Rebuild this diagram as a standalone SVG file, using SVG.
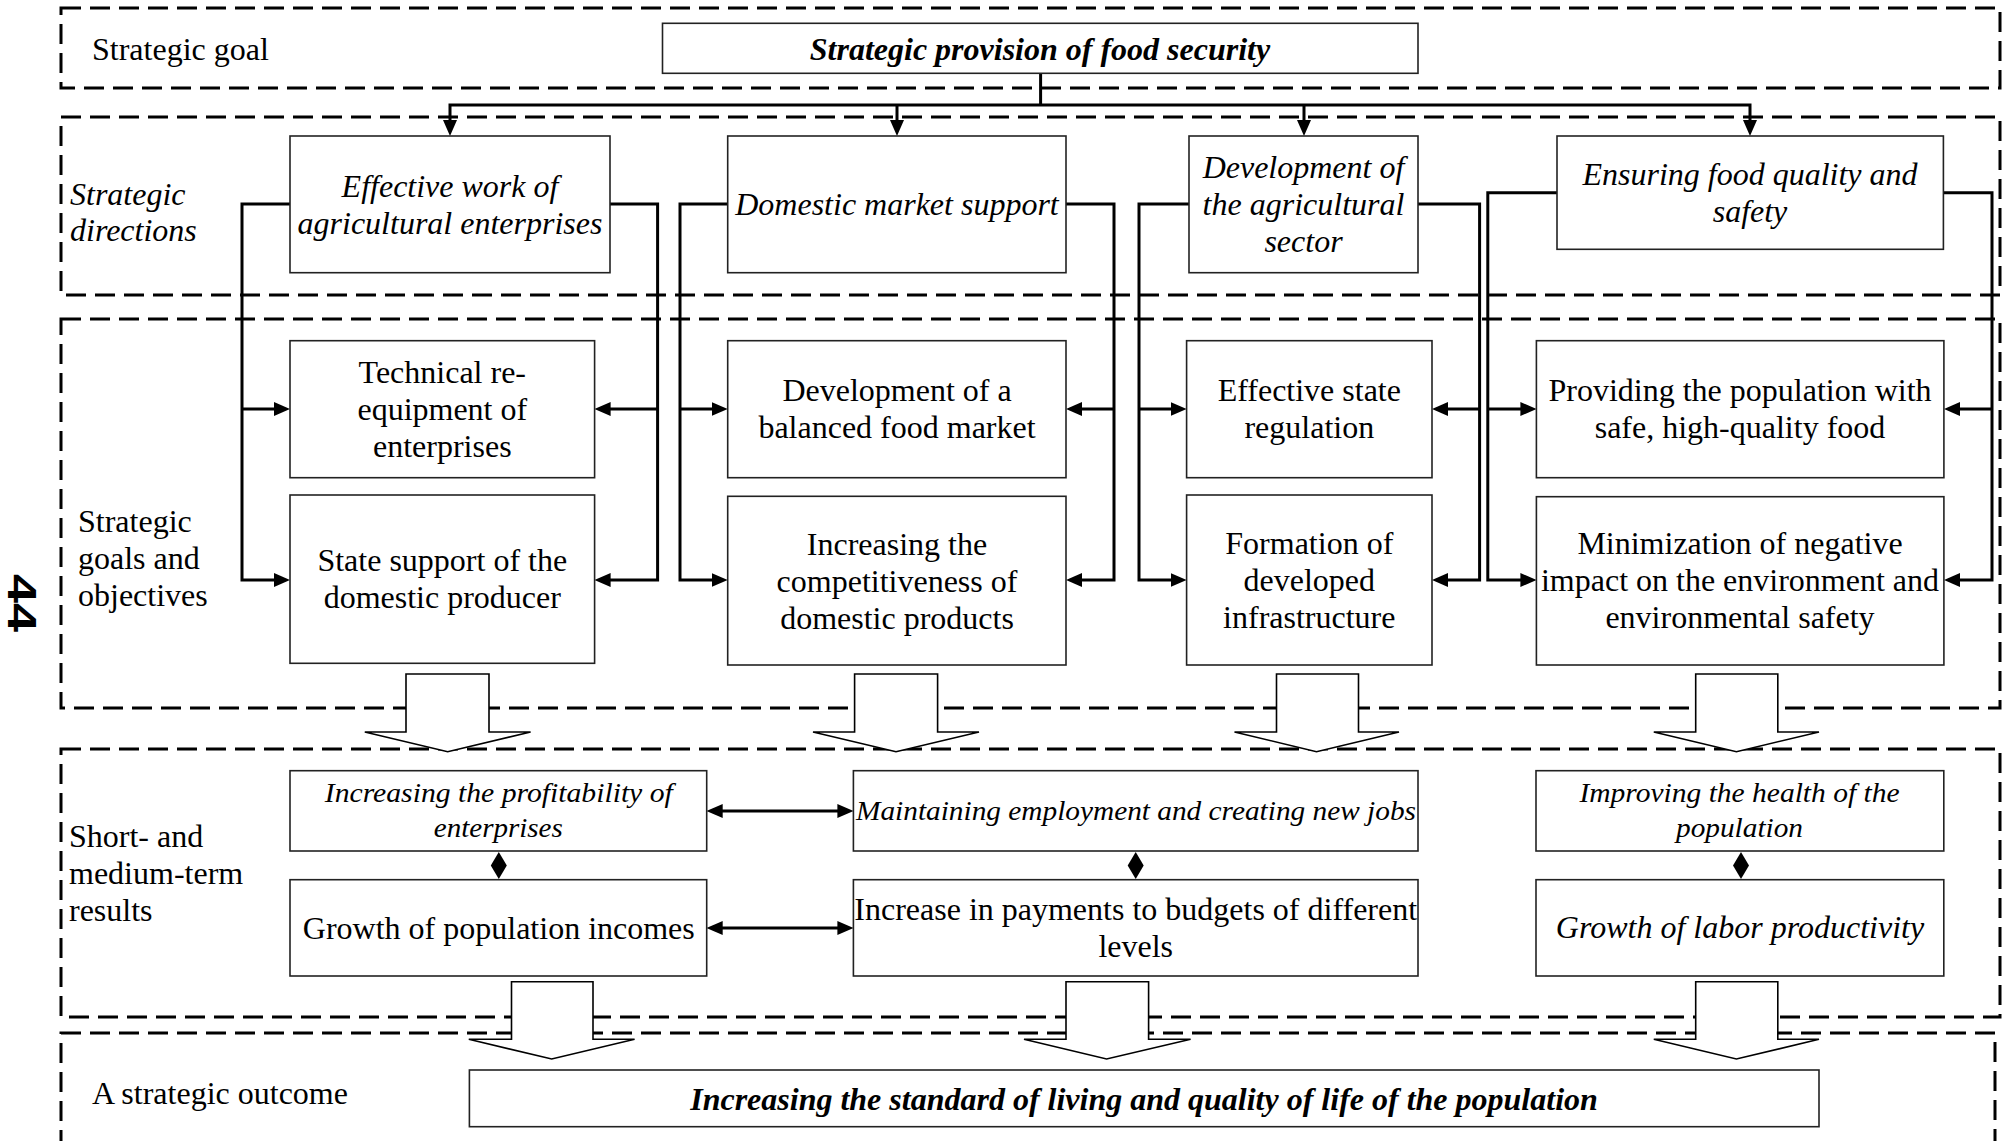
<svg xmlns="http://www.w3.org/2000/svg" width="2013" height="1141" viewBox="0 0 2013 1141">
  <style>
    .frame{fill:none;stroke:#000;stroke-width:3;stroke-dasharray:20 9}
    .box{fill:#fff;stroke:#222;stroke-width:1.6}
    .t{font-family:"Liberation Serif","Times New Roman",serif;font-size:32px;fill:#000}
    .c{text-anchor:middle}
    .i{font-style:italic}
    .b{font-weight:bold}
    .s{font-size:28px}
    .wire{fill:none;stroke:#000;stroke-width:3}
    .block{fill:#fff;stroke:#000;stroke-width:1.6;stroke-linejoin:miter}
    .dia{fill:#000;stroke:none}
  </style>
  <defs>
    <marker id="ah" markerUnits="userSpaceOnUse" markerWidth="16" markerHeight="14" viewBox="0 0 16 14" refX="8" refY="7" orient="auto-start-reverse">
      <path d="M0,0 L16,7 L0,14 Z" fill="#000"/>
    </marker>
  </defs>
  <rect width="2013" height="1141" fill="#fff"/>

  <!-- dashed level frames with their captions -->
  <g id="levels">
    <g id="level-goal">
      <rect class="frame" x="61" y="8" width="1939" height="80"/>
      <text class="t" x="92" y="60">Strategic goal</text>
    </g>
    <g id="level-directions">
      <rect class="frame" x="61" y="117" width="1939" height="178"/>
      <text class="t i" x="70" y="205">Strategic</text>
      <text class="t i" x="70" y="241">directions</text>
    </g>
    <g id="level-objectives">
      <rect class="frame" x="61" y="319" width="1939" height="389"/>
      <text class="t" x="78" y="532">Strategic</text>
      <text class="t" x="78" y="569">goals and</text>
      <text class="t" x="78" y="606">objectives</text>
    </g>
    <g id="level-results">
      <rect class="frame" x="61" y="749" width="1939" height="268"/>
      <text class="t" x="69" y="847">Short- and</text>
      <text class="t" x="69" y="884">medium-term</text>
      <text class="t" x="69" y="921">results</text>
    </g>
    <g id="level-outcome">
      <rect class="frame" x="61" y="1033" width="1934" height="140"/>
      <text class="t" x="92" y="1104">A strategic outcome</text>
    </g>
  </g>

  <!-- page number -->
  <text transform="translate(22,603) rotate(90)" text-anchor="middle" dominant-baseline="central" font-family="Liberation Sans, Arial, sans-serif" font-weight="bold" font-size="40" textLength="58" lengthAdjust="spacingAndGlyphs">44</text>

  <!-- connectors -->
  <g id="connectors">
    <!-- block arrows between levels -->
    <polygon class="block" points="406,674 489,674 489,732 530.6,732 447.7,751.7 364.8,732 406,732"/>
    <polygon class="block" points="854.6,674 937.6,674 937.6,732 979,732 896,751.7 813,732 854.6,732"/>
    <polygon class="block" points="1276.5,674 1358.5,674 1358.5,732 1399,732 1316.5,751.7 1234.5,732 1276.5,732"/>
    <polygon class="block" points="1695.7,674 1777.8,674 1777.8,732 1819,732 1736.4,751.7 1653.8,732 1695.7,732"/>
    <polygon class="block" points="511.5,981.7 593,981.7 593,1039.3 634.6,1039.3 551.7,1059 468.8,1039.3 511.5,1039.3"/>
    <polygon class="block" points="1066,981.7 1148.6,981.7 1148.6,1039.3 1190.6,1039.3 1106.6,1059 1024,1039.3 1066,1039.3"/>
    <polygon class="block" points="1695.7,981.7 1777.8,981.7 1777.8,1039.3 1819,1039.3 1736.4,1059 1653.8,1039.3 1695.7,1039.3"/>

    <!-- goal to directions -->
    <path class="wire" d="M1040.6,73.3 V105"/>
    <path class="wire" d="M450,128 V105 H1750 V128" marker-start="url(#ah)" marker-end="url(#ah)"/>
    <path class="wire" d="M897,105 V128" marker-end="url(#ah)"/>
    <path class="wire" d="M1304,105 V128" marker-end="url(#ah)"/>

    <!-- directions to objectives -->
    <path class="wire" d="M290,204 H242 V580 H282" marker-end="url(#ah)"/>
    <path class="wire" d="M242,409 H282" marker-end="url(#ah)"/>
    <path class="wire" d="M610,204 H657.6 V580 H602.6" marker-end="url(#ah)"/>
    <path class="wire" d="M657.6,409 H602.6" marker-end="url(#ah)"/>

    <path class="wire" d="M727.7,204 H680 V580 H719.7" marker-end="url(#ah)"/>
    <path class="wire" d="M680,409 H719.7" marker-end="url(#ah)"/>
    <path class="wire" d="M1066,204 H1114 V580 H1074" marker-end="url(#ah)"/>
    <path class="wire" d="M1114,409 H1074" marker-end="url(#ah)"/>

    <path class="wire" d="M1189,204 H1139 V580 H1178.6" marker-end="url(#ah)"/>
    <path class="wire" d="M1139,409 H1178.6" marker-end="url(#ah)"/>
    <path class="wire" d="M1418,204 H1479.6 V580 H1440" marker-end="url(#ah)"/>
    <path class="wire" d="M1479.6,409 H1440" marker-end="url(#ah)"/>

    <path class="wire" d="M1557,192.7 H1487.8 V580 H1528.4" marker-end="url(#ah)"/>
    <path class="wire" d="M1487.8,409 H1528.4" marker-end="url(#ah)"/>
    <path class="wire" d="M1943.4,192.7 H1992 V580 H1952" marker-end="url(#ah)"/>
    <path class="wire" d="M1992,409 H1952" marker-end="url(#ah)"/>

    <!-- links between results -->
    <path class="wire" d="M714.7,811 H845.4" marker-start="url(#ah)" marker-end="url(#ah)"/>
    <path class="wire" d="M714.7,928 H845.4" marker-start="url(#ah)" marker-end="url(#ah)"/>
    <polygon class="dia" points="498.8,852 506.8,865.5 498.8,879 490.8,865.5"/>
    <polygon class="dia" points="1135.7,852 1143.7,865.5 1135.7,879 1127.7,865.5"/>
    <polygon class="dia" points="1741,852 1749,865.5 1741,879 1733,865.5"/>
  </g>

  <!-- strategic goal -->
  <g id="goal">
    <rect class="box" x="662.5" y="23.3" width="755.5" height="50"/>
    <text class="t i b c" x="1040" y="60">Strategic provision of food security</text>
  </g>

  <!-- strategic directions -->
  <g id="dir-enterprises">
    <rect class="box" x="290" y="136" width="320" height="136.7"/>
    <text class="t i c" x="450" y="196.5">Effective work of</text>
    <text class="t i c" x="450" y="233.5">agricultural enterprises</text>
  </g>
  <g id="dir-market">
    <rect class="box" x="727.7" y="136" width="338.3" height="136.7"/>
    <text class="t i c" x="897" y="215">Domestic market support</text>
  </g>
  <g id="dir-agrisector">
    <rect class="box" x="1189" y="136" width="229" height="136.7"/>
    <text class="t i c" x="1303.5" y="178">Development of</text>
    <text class="t i c" x="1303.5" y="215">the agricultural</text>
    <text class="t i c" x="1303.5" y="252">sector</text>
  </g>
  <g id="dir-quality">
    <rect class="box" x="1557" y="136" width="386.4" height="113.3"/>
    <text class="t i c" x="1750" y="184.5">Ensuring food quality and</text>
    <text class="t i c" x="1750" y="221.5">safety</text>
  </g>

  <!-- goals and objectives -->
  <g id="obj-reequipment">
    <rect class="box" x="290" y="340.7" width="304.6" height="137"/>
    <text class="t c" x="442.3" y="382.7">Technical re-</text>
    <text class="t c" x="442.3" y="419.7">equipment of</text>
    <text class="t c" x="442.3" y="456.7">enterprises</text>
  </g>
  <g id="obj-producer">
    <rect class="box" x="290" y="495" width="304.6" height="168.3"/>
    <text class="t c" x="442.3" y="570.5">State support of the</text>
    <text class="t c" x="442.3" y="607.5">domestic producer</text>
  </g>
  <g id="obj-foodmarket">
    <rect class="box" x="727.7" y="340.7" width="338.3" height="137"/>
    <text class="t c" x="897" y="401.2">Development of a</text>
    <text class="t c" x="897" y="438.2">balanced food market</text>
  </g>
  <g id="obj-competitiveness">
    <rect class="box" x="727.7" y="496.3" width="338.3" height="168.7"/>
    <text class="t c" x="897" y="554.5">Increasing the</text>
    <text class="t c" x="897" y="591.5">competitiveness of</text>
    <text class="t c" x="897" y="628.5">domestic products</text>
  </g>
  <g id="obj-regulation">
    <rect class="box" x="1186.6" y="340.7" width="245.4" height="137"/>
    <text class="t c" x="1309.3" y="401.2">Effective state</text>
    <text class="t c" x="1309.3" y="438.2">regulation</text>
  </g>
  <g id="obj-infrastructure">
    <rect class="box" x="1186.6" y="495" width="245.4" height="170"/>
    <text class="t c" x="1309.3" y="553.5">Formation of</text>
    <text class="t c" x="1309.3" y="590.5">developed</text>
    <text class="t c" x="1309.3" y="627.5">infrastructure</text>
  </g>
  <g id="obj-safefood">
    <rect class="box" x="1536.4" y="340.7" width="407.5" height="137"/>
    <text class="t c" x="1740" y="400.5">Providing the population with</text>
    <text class="t c" x="1740" y="437.5">safe, high-quality food</text>
  </g>
  <g id="obj-environment">
    <rect class="box" x="1536.4" y="496.7" width="407.5" height="168.3"/>
    <text class="t c" x="1740" y="554">Minimization of negative</text>
    <text class="t c" x="1740" y="591">impact on the environment and</text>
    <text class="t c" x="1740" y="628">environmental safety</text>
  </g>

  <!-- short- and medium-term results -->
  <g id="res-profitability">
    <rect class="box" x="290" y="770.7" width="416.7" height="80.3"/>
    <text class="t i s c" x="498.8" y="801.7" textLength="348" lengthAdjust="spacingAndGlyphs">Increasing the profitability of</text>
    <text class="t i s c" x="498.3" y="836.7" textLength="129" lengthAdjust="spacingAndGlyphs">enterprises</text>
  </g>
  <g id="res-employment">
    <rect class="box" x="853.4" y="770.7" width="564.6" height="80.3"/>
    <text class="t i s c" x="1136" y="820" textLength="560" lengthAdjust="spacingAndGlyphs">Maintaining employment and creating new jobs</text>
  </g>
  <g id="res-health">
    <rect class="box" x="1536" y="770.7" width="407.8" height="80.3"/>
    <text class="t i s c" x="1739.5" y="801.7" textLength="320" lengthAdjust="spacingAndGlyphs">Improving the health of the</text>
    <text class="t i s c" x="1739.5" y="836.7" textLength="127" lengthAdjust="spacingAndGlyphs">population</text>
  </g>
  <g id="res-incomes">
    <rect class="box" x="290" y="879.7" width="416.7" height="96.3"/>
    <text class="t c" x="498.8" y="938.5">Growth of population incomes</text>
  </g>
  <g id="res-budgets">
    <rect class="box" x="853.4" y="879.7" width="564.6" height="96.3"/>
    <text class="t c" x="1135.7" y="920">Increase in payments to budgets of different</text>
    <text class="t c" x="1135.7" y="957">levels</text>
  </g>
  <g id="res-productivity">
    <rect class="box" x="1536" y="879.7" width="407.8" height="96.3"/>
    <text class="t i c" x="1740" y="938">Growth of labor productivity</text>
  </g>

  <!-- strategic outcome -->
  <g id="outcome">
    <rect class="box" x="469.4" y="1070" width="1349.6" height="56.7"/>
    <text class="t i b c" x="1144" y="1110">Increasing the standard of living and quality of life of the population</text>
  </g>
</svg>
